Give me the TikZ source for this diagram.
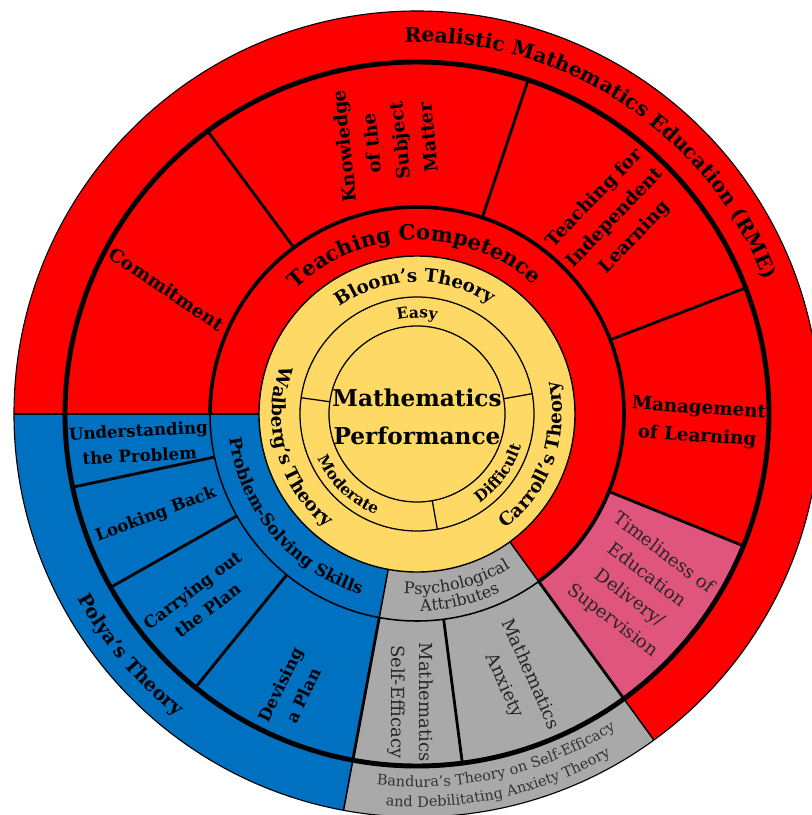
\documentclass[tikz,border=0pt]{standalone}
\usepackage{fontspec}
\setmainfont{DejaVu Serif}
\usetikzlibrary{decorations.text}

\definecolor{rmered}{HTML}{FF0000}
\definecolor{polyablue}{HTML}{0070C0}
\definecolor{coreyellow}{HTML}{FFD966}
\definecolor{attrgrey}{HTML}{A9A9A9}
\definecolor{timepink}{HTML}{E0557E}

\def\fullR{403}
\def\bandR{352}
\def\ringR{207}
\def\coreR{158}
\def\easyR{117}
\def\midR{88}

% colour, inner radius, outer radius, from, to
\newcommand{\ringpart}[5]{\fill[#1] (#4:#3) arc[start angle=#4, end angle=#5, radius=#3] -- (#5:#2) arc[start angle=#5, end angle=#4, radius=#2] -- cycle;}
% radius, middle angle, font, text
\newcommand{\cwlabel}[4]{\path[decorate, decoration={text along path, text align=center, text={|#3|#4}}] ({#2+80}:#1) arc[start angle={#2+80}, end angle={#2-80}, radius=#1];}
\newcommand{\ccwlabel}[4]{\path[decorate, decoration={text along path, text align=center, text={|#3|#4}}] ({#2-80}:#1) arc[start angle={#2-80}, end angle={#2+80}, radius=#1];}

\begin{document}
\begin{tikzpicture}[x=0.25mm, y=0.25mm,
    seglabel/.style={font=\bfseries\fontsize{13}{20}\selectfont, align=center, inner sep=0pt},
    bluelabel/.style={font=\bfseries\fontsize{11.8}{18}\selectfont, align=center, inner sep=0pt},
    softlabel/.style={font=\fontsize{12.8}{20}\selectfont, align=center, inner sep=0pt, text=black!85},
    divider/.style={line width=2pt},
    thinline/.style={line width=1.1pt}]

    \useasboundingbox (-417,-401) rectangle (395,414);

    \fill[rmered] (0,0) -- (-54:\fullR) arc[start angle=-54, end angle=180, radius=\fullR] -- cycle;
    \fill[polyablue] (0,0) -- (180:\fullR) arc[start angle=180, end angle=259.5, radius=\fullR] -- cycle;
    \fill[attrgrey] (0,0) -- (259.5:\fullR) arc[start angle=259.5, end angle=306, radius=\fullR] -- cycle;
    \ringpart{timepink}{\ringR}{\bandR}{-54}{-22}
    \fill[coreyellow] (0,0) circle[radius=\coreR];

    \draw[line width=0.8pt] (0,0) circle[radius=\fullR];
    \draw[line width=3.5pt] (0,0) circle[radius=\bandR];
    \draw[line width=2.6pt] (-54:\ringR) arc[start angle=-54, end angle=180, radius=\ringR];
    \draw[thinline] (180:\ringR) arc[start angle=180, end angle=306, radius=\ringR];
    \draw[thinline] (180:\coreR) -- (180:\fullR);
    \foreach \a in {259.5,-54}
        \draw[thinline] (\a:\coreR) -- (\a:\ringR) (\a:\bandR) -- (\a:\fullR);
    \foreach \a in {126.5,71.6,21,-22,192,209.5,231,259.5,-54,-82.6}
        \draw[divider] (\a:\ringR) -- (\a:\bandR);
    \draw[line width=1pt] (0,0) circle[radius=\coreR];
    \draw[line width=0.9pt] (0,0) circle[radius=\easyR] (0,0) circle[radius=\midR];
    \foreach \a in {10,172,280}
        \draw[line width=0.9pt] (\a:\midR) -- (\a:\easyR);

    % outer band
    \cwlabel{372}{56.5}{\bfseries\fontsize{14.5}{17}\selectfont}{Realistic Mathematics Education (RME)}
    \ccwlabel{386}{220}{\bfseries\fontsize{13.5}{15}\selectfont}{Polya’s Theory}
    \ccwlabel{373}{-77}{\color{black!80}\fontsize{10.3}{12}\selectfont}{Bandura’s Theory on Self-Efficacy}
    \ccwlabel{393}{-77.5}{\color{black!80}\fontsize{10.3}{12}\selectfont}{and Debilitating Anxiety Theory}

    % segments
    \node[seglabel, rotate=-34] (commit) at (-250,125) {Commitment};
    \node[seglabel, rotate=96] (know) at (-31,272) {Knowledge\\of the\\Subject\\Matter};
    \node[seglabel, rotate=46] (indep) at (198,196) {Teaching for\\Independent\\Learning};
    \node[seglabel, rotate=-4] (manage) at (281,-9) {Management\\of Learning};
    \node[softlabel, rotate=-37] (timely) at (221,-173) {Timeliness of\\Education\\Delivery/\\Supervision};
    \node[bluelabel, rotate=3] (underst) at (-278,-29) {Understanding\\the Problem};
    \node[bluelabel, rotate=21] (lookback) at (-261,-101) {Looking Back};
    \node[bluelabel, rotate=37] (carry) at (-217,-186) {Carrying out\\the Plan};
    \node[bluelabel, rotate=64] (devise) at (-125,-276) {Devising\\a Plan};
    \node[softlabel, rotate=-90] (selfeff) at (-7,-288) {Mathematics\\Self-Efficacy};
    \node[softlabel, rotate=-66] (anxiety) at (100,-266) {Mathematics\\Anxiety};

    % rings
    \cwlabel{174}{91}{\bfseries\fontsize{15}{17}\selectfont}{Teaching Competence}
    \ccwlabel{189}{220}{\bfseries\fontsize{12}{14}\selectfont}{Problem-Solving Skills}
    \ccwlabel{180}{-76.5}{\color{black!85}\fontsize{11.5}{13}\selectfont}{Psychological}
    \ccwlabel{197}{-77}{\color{black!85}\fontsize{11.5}{13}\selectfont}{Attributes}
    \cwlabel{132}{91}{\bfseries\fontsize{13}{15}\selectfont}{Bloom’s Theory}
    \ccwlabel{145}{196}{\bfseries\fontsize{13}{15}\selectfont}{Walberg’s Theory}
    \ccwlabel{145}{-19.5}{\bfseries\fontsize{13}{15}\selectfont}{Carroll’s Theory}
    \cwlabel{96}{90}{\bfseries\fontsize{11}{13}\selectfont}{Easy}
    \ccwlabel{109}{226}{\bfseries\fontsize{11}{13}\selectfont}{Moderate}
    \ccwlabel{109}{-36}{\bfseries\fontsize{11}{13}\selectfont}{Difficult}

    \node[font=\bfseries\fontsize{16.5}{27}\selectfont, align=center, inner sep=0pt] (perf) at (0,-3) {Mathematics\\Performance};
\end{tikzpicture}
\end{document}
